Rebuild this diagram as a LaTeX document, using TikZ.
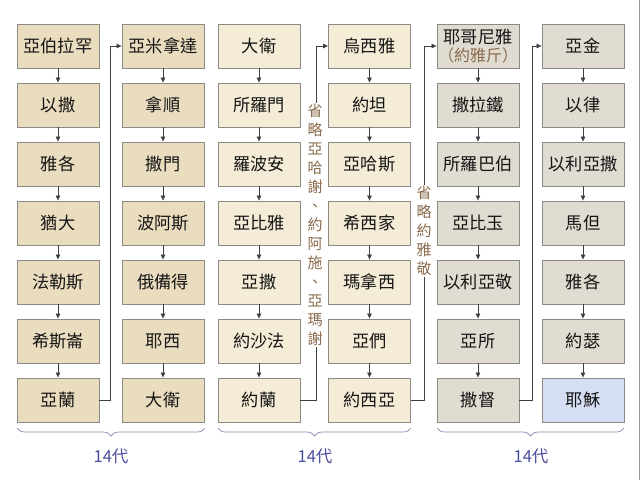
\documentclass[tikz,border=0pt]{standalone}
\usepackage{fontspec}
\setmainfont{Noto Sans CJK TC}
\usetikzlibrary{decorations.pathreplacing,arrows.meta}
\definecolor{parchA}{HTML}{EADCBE}
\definecolor{parchB}{HTML}{F4ECD6}
\definecolor{parchC}{HTML}{E0DCD1}
\definecolor{jesusC}{HTML}{D6DEF3}
\definecolor{boxline}{HTML}{8C8A84}
\definecolor{noteC}{HTML}{8A6A4C}
\definecolor{genC}{HTML}{4A4C9C}
\definecolor{braceC}{HTML}{8486AE}
\tikzset{
  gbox/.style={draw=boxline, line width=0.9pt, minimum width=82pt, minimum height=44pt,
    inner sep=0pt, align=center, font=\fontsize{17.2}{19}\selectfont, text=black!92},
  ga/.style={gbox, fill=parchA},
  gb/.style={gbox, fill=parchB},
  gc/.style={gbox, fill=parchC},
  gj/.style={gbox, fill=jesusC},
  link/.style={draw=black!75, line width=0.7pt, -{Triangle[length=5pt,width=4.5pt]}},
  vnote/.style={fill=white, inner sep=1pt, align=center, text=noteC,
    font=\fontsize{15}{19}\selectfont},
  gbrace/.style={draw=braceC, line width=0.7pt, decorate,
    decoration={brace, mirror, amplitude=8pt}},
  genlabel/.style={text=genC, font=\fontsize{16.5}{19}\selectfont}
}
\begin{document}
\begin{tikzpicture}[x=1pt,y=-1pt]
\useasboundingbox (0,0) rectangle (640,480);
\draw[gray!80, line width=0.8pt] (639.3,0) -- (639.3,480);
% column 1
\node[ga] (a1) at (58,46) {亞伯拉罕};
\node[ga] (a2) at (58,105) {以撒};
\node[ga] (a3) at (58,164) {雅各};
\node[ga] (a4) at (58,223) {猶大};
\node[ga] (a5) at (58,282) {法勒斯};
\node[ga] (a6) at (58,341) {希斯崙};
\node[ga] (a7) at (58,400) {亞蘭};
% column 2
\node[ga] (b1) at (163,46) {亞米拿達};
\node[ga] (b2) at (163,105) {拿順};
\node[ga] (b3) at (163,164) {撒門};
\node[ga] (b4) at (163,223) {波阿斯};
\node[ga] (b5) at (163,282) {俄備得};
\node[ga] (b6) at (163,341) {耶西};
\node[ga] (b7) at (163,400) {大衛};
% column 3
\node[gb] (c1) at (259,46) {大衛};
\node[gb] (c2) at (259,105) {所羅門};
\node[gb] (c3) at (259,164) {羅波安};
\node[gb] (c4) at (259,223) {亞比雅};
\node[gb] (c5) at (259,282) {亞撒};
\node[gb] (c6) at (259,341) {約沙法};
\node[gb] (c7) at (259,400) {約蘭};
% column 4
\node[gb] (d1) at (369.5,46) {烏西雅};
\node[gb] (d2) at (369.5,105) {約坦};
\node[gb] (d3) at (369.5,164) {亞哈斯};
\node[gb] (d4) at (369.5,223) {希西家};
\node[gb] (d5) at (369.5,282) {瑪拿西};
\node[gb] (d6) at (369.5,341) {亞們};
\node[gb] (d7) at (369.5,400) {約西亞};
% column 5
\node[gc] (e1) at (478,46) {耶哥尼雅\\[-1pt]{\color{noteC}\fontsize{16}{18}\selectfont（約雅斤）}};
\node[gc] (e2) at (478,105) {撒拉鐵};
\node[gc] (e3) at (478,164) {所羅巴伯};
\node[gc] (e4) at (478,223) {亞比玉};
\node[gc] (e5) at (478,282) {以利亞敬};
\node[gc] (e6) at (478,341) {亞所};
\node[gc] (e7) at (478,400) {撒督};
% column 6
\node[gc] (f1) at (583,46) {亞金};
\node[gc] (f2) at (583,105) {以律};
\node[gc] (f3) at (583,164) {以利亞撒};
\node[gc] (f4) at (583,223) {馬但};
\node[gc] (f5) at (583,282) {雅各};
\node[gc] (f6) at (583,341) {約瑟};
\node[gj] (f7) at (583,400) {耶穌};
% vertical arrows
\foreach \c in {a,b,c,d,e,f}{
  \foreach \i [evaluate=\i as \j using int(\i+1)] in {1,...,6}{
    \draw[link] (\c\i.south) -- (\c\j.north);
  }
}
% column links
\draw[link] (a7.east) -- ++(11,0) |- (b1.west);
\draw[link] (c7.east) -- ++(15.5,0) |- (d1.west);
\draw[link] (d7.east) -- ++(13,0) |- (e1.west);
\draw[link] (e7.east) -- ++(12.5,0) |- (f1.west);
% notes
\node[vnote] (n1) at (315,225) {省\\略\\亞\\哈\\謝\\、\\約\\阿\\施\\、\\亞\\瑪\\謝};
\node[vnote] (n2) at (424,231) {省\\略\\約\\雅\\敬};
% braces
\coordinate (br1a) at (17,428);
\coordinate (br1b) at (205,428);
\coordinate (br2a) at (218,428);
\coordinate (br2b) at (411,428);
\coordinate (br3a) at (437,428);
\coordinate (br3b) at (624,428);
\draw[gbrace] (br1a) -- (br1b);
\draw[gbrace] (br2a) -- (br2b);
\draw[gbrace] (br3a) -- (br3b);
\node[genlabel] (g1) at (111,456) {14代};
\node[genlabel] (g2) at (315,456) {14代};
\node[genlabel] (g3) at (531,456) {14代};
\end{tikzpicture}
\end{document}
